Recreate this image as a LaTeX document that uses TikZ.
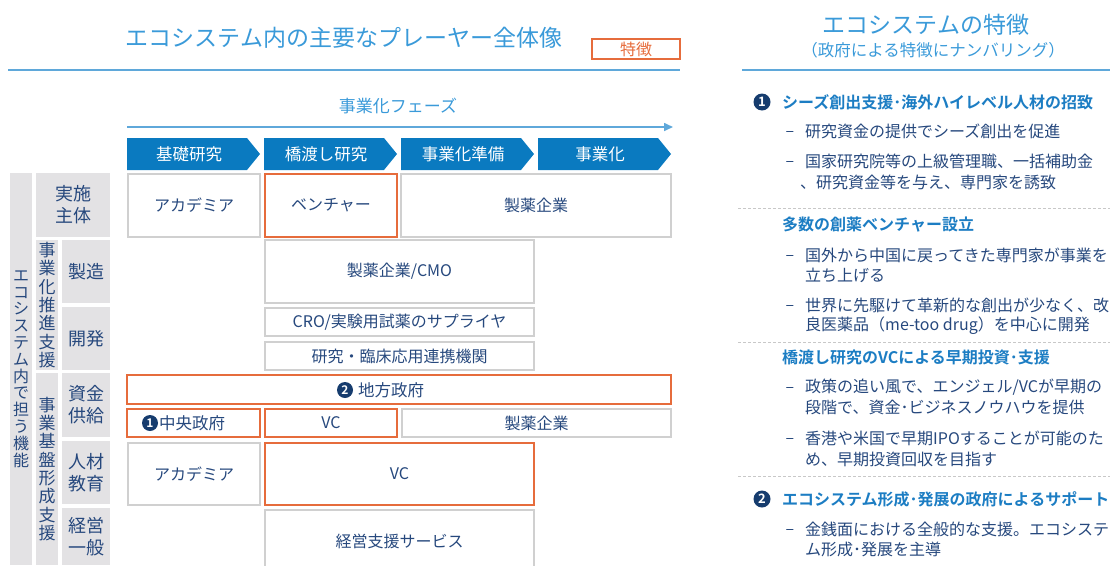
\documentclass[tikz,border=0pt]{standalone}
\usepackage{fontspec}
\setmainfont{Noto Sans CJK JP}[BoldFont={Noto Sans CJK JP Bold}]
\usetikzlibrary{arrows.meta}
\definecolor{ttlblue}{RGB}{58,154,217}
\definecolor{ruleblue}{RGB}{95,168,218}
\definecolor{chevblue}{RGB}{10,122,192}
\definecolor{navy}{RGB}{38,72,125}
\definecolor{headblue}{RGB}{28,125,195}
\definecolor{circnavy}{RGB}{22,60,110}
\definecolor{orng}{RGB}{230,108,60}
\definecolor{boxgray}{RGB}{208,208,208}
\definecolor{labgray}{RGB}{227,226,228}
\definecolor{sepgray}{RGB}{200,200,200}
\newcommand\bx[7]{\pgfmathsetmacro\mybw{#5-#3}\pgfmathsetmacro\mybh{#6-#4}%
  \node[#2,minimum width=\mybw pt,minimum height=\mybh pt] (#1) at ({(#3+#5)/2},{(#4+#6)/2}) {#7};}
\newcommand\chev[3]{%
  \fill[chevblue] (#2,138) -- ({#2+120},138) -- ({#2+133},154) -- ({#2+120},170) -- (#2,170) -- cycle;
  \node[chevtext] (#1) at ({#2+62},154) {#3};}
\begin{document}
\begin{tikzpicture}[x=1pt,y=-1pt,
  title/.style={text=ttlblue,font=\fontsize{23}{26}\selectfont,inner sep=0pt},
  subtitle/.style={text=ttlblue,font=\fontsize{16.5}{19}\selectfont,inner sep=0pt},
  rulel/.style={draw=ruleblue,line width=1.4pt},
  box/.style={draw=boxgray,line width=1.2pt,inner sep=0pt,text=navy,font=\fontsize{16}{18}\selectfont},
  obox/.style={box,draw=orng},
  lab/.style={fill=labgray,inner sep=0pt,text=navy,align=center,font=\fontsize{18}{22}\selectfont},
  vlab/.style={lab,font=\fontsize{17}{18.3}\selectfont},
  vlabA/.style={lab,font=\fontsize{16}{16.8}\selectfont},
  chevtext/.style={text=white,inner sep=0pt,font=\fontsize{16.5}{18}\selectfont},
  numc/.style={circle,fill=circnavy,text=white,inner sep=0pt,minimum size=17pt,font=\fontsize{13}{13}\selectfont\bfseries},
  numcs/.style={numc,minimum size=16pt,font=\fontsize{12}{12}\selectfont\bfseries},
  head/.style={anchor=west,inner sep=0pt,text=headblue,font=\fontsize{16}{18}\selectfont\bfseries},
  body/.style={anchor=west,inner sep=0pt,text=navy,font=\fontsize{16}{18}\selectfont},
  dashmark/.style={inner sep=0pt,text=navy,font=\fontsize{16}{18}\selectfont},
  sepline/.style={draw=sepgray,line width=0.9pt,dash pattern=on 3pt off 2pt},
  plain/.style={inner sep=0pt,text=navy,font=\fontsize{16.5}{18}\selectfont}]
\useasboundingbox (0,0) rectangle (1113,565);

% ---------- left header ----------
\node[title] (ttl) at (344,38) {エコシステム内の主要なプレーヤー全体像};
\bx{tok}{box,draw=orng,text=orng,font=\fontsize{16}{17}\selectfont}{592}{39}{680}{59}{特徴}
\coordinate (rl1) at (8,70); \coordinate (rl2) at (680,70);
\draw[rulel] (rl1) -- (rl2);
\node[inner sep=0pt,text=ttlblue,font=\fontsize{17}{19}\selectfont] (phase) at (398,106) {事業化フェーズ};
\coordinate (arS) at (127,127); \coordinate (arE) at (673,127);
\draw[draw=ruleblue,line width=1.6pt,-{Triangle[length=9pt,width=8pt]}] (arS) -- (arE);

\chev{ph1}{127}{基礎研究}
\chev{ph2}{264}{橋渡し研究}
\chev{ph3}{401}{事業化準備}
\chev{ph4}{538}{事業化}

% ---------- left labels ----------
\bx{c1}{vlabA}{10}{173}{32}{565}{エ\\コ\\シ\\ス\\テ\\ム\\内\\で\\担\\う\\機\\能}
\bx{jisshi}{lab}{36}{173}{110}{237}{実施\\主体}
\bx{suishin}{vlab}{36}{240}{58}{370}{事\\業\\化\\推\\進\\支\\援}
\bx{seizo}{lab}{62}{240}{110}{303}{製造}
\bx{kaihatsu}{lab}{62}{307}{110}{370}{開発}
\bx{kiban}{vlab}{36}{373}{58}{565}{事\\業\\基\\盤\\形\\成\\支\\援}
\bx{shikin}{lab}{62}{373}{110}{437}{資金\\供給}
\bx{jinzai}{lab}{62}{441}{110}{504}{人材\\教育}
\bx{keiei}{lab}{62}{508}{110}{565}{経営\\一般}

% ---------- grid boxes ----------
\bx{acad1}{box}{128}{174}{260}{237}{アカデミア}
\bx{venture}{obox}{265}{174}{397}{237}{ベンチャー}
\bx{pharma1}{box}{401}{174}{671}{237}{製薬企業}
\bx{cmo}{box}{265}{240}{534}{303}{製薬企業/CMO}
\bx{cro}{box}{265}{308}{534}{336}{CRO/実験用試薬のサプライヤ}
\bx{kenkyu}{box}{265}{342}{534}{370}{研究・臨床応用連携機関}
\bx{localgov}{obox}{127}{375}{671}{404}{}
\node[numcs] (n2grid) at (345,390) {2};
\node[plain,anchor=west] (localtxt) at (358,390) {地方政府};
\bx{centgov}{obox}{127}{409}{260}{437}{}
\node[numcs] (n1grid) at (150,423) {1};
\node[plain,anchor=west] (centtxt) at (159,423) {中央政府};
\bx{vc1}{obox}{265}{409}{397}{437}{VC}
\bx{pharma2}{box}{402}{409}{671}{437}{製薬企業}
\bx{acad2}{box}{128}{443}{260}{505}{アカデミア}
\bx{vc2}{obox}{265}{443}{534}{505}{VC}
\bx{keieisvc}{box}{265}{510}{534}{572}{経営支援サービス}

% ---------- right panel ----------
\node[title] (rttl) at (926,25) {エコシステムの特徴};
\node[subtitle] (rsub) at (933,50) {（政府による特徴にナンバリング）};
\coordinate (rr1) at (742,70); \coordinate (rr2) at (1110,70);
\draw[rulel] (rr1) -- (rr2);

\node[numc] (n1) at (762,102) {1};
\node[head] (h1) at (782,102) {シーズ創出支援･海外ハイレベル人材の招致};
\node[dashmark] (d11) at (790,131) {\vphantom{研}–};
\node[body] (t11) at (805,131) {研究資金の提供でシーズ創出を促進};
\node[dashmark] (d12) at (790,161) {\vphantom{研}–};
\node[body] (t12a) at (805,161) {国家研究院等の上級管理職、一括補助金};
\node[body] (t12b) at (800,182) {、研究資金等を与え、専門家を誘致};
\coordinate (s1a) at (738,208); \coordinate (s1b) at (1110,208);
\draw[sepline] (s1a) -- (s1b);

\node[head] (h2) at (782,225) {多数の創薬ベンチャー設立};
\node[dashmark] (d21) at (790,255) {\vphantom{研}–};
\node[body] (t21a) at (805,255) {国外から中国に戻ってきた専門家が事業を};
\node[body] (t21b) at (805,275) {立ち上げる};
\node[dashmark] (d22) at (790,305) {\vphantom{研}–};
\node[body] (t22a) at (805,305) {世界に先駆けて革新的な創出が少なく、改};
\node[body] (t22b) at (805,326) {良医薬品（me-too drug）を中心に開発};
\coordinate (s2a) at (738,342); \coordinate (s2b) at (1110,342);
\draw[sepline] (s2a) -- (s2b);

\node[head] (h3) at (782,357) {橋渡し研究のVCによる早期投資･支援};
\node[dashmark] (d31) at (790,387) {\vphantom{研}–};
\node[body] (t31a) at (805,387) {政策の追い風で、エンジェル/VCが早期の};
\node[body] (t31b) at (805,407) {段階で、資金･ビジネスノウハウを提供};
\node[dashmark] (d32) at (790,438) {\vphantom{研}–};
\node[body] (t32a) at (805,438) {香港や米国で早期IPOすることが可能のた};
\node[body] (t32b) at (805,459) {め、早期投資回収を目指す};
\coordinate (s3a) at (738,476); \coordinate (s3b) at (1110,476);
\draw[sepline] (s3a) -- (s3b);

\node[numc] (n2) at (762,499) {2};
\node[head] (h4) at (782,499) {エコシステム形成･発展の政府によるサポート};
\node[dashmark] (d41) at (790,529) {\vphantom{研}–};
\node[body] (t41a) at (805,529) {金銭面における全般的な支援。エコシステ};
\node[body] (t41b) at (805,549) {ム形成･発展を主導};
\end{tikzpicture}
\end{document}
